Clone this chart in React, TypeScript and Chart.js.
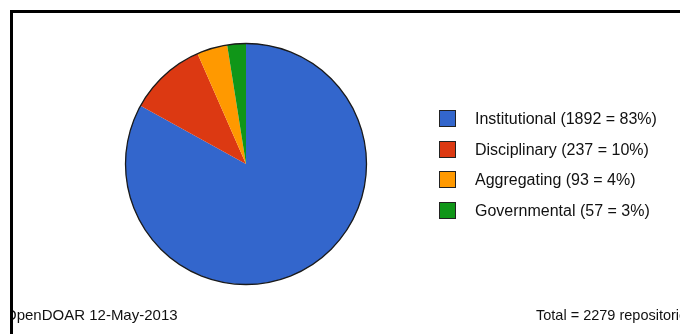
import React, { useEffect, useRef } from "react";
import { Chart, registerables } from "chart.js";

Chart.register(...registerables);

const categories = ["Institutional", "Disciplinary", "Aggregating", "Governmental"];
const counts = [1892, 237, 93, 57];
const percents = [83, 10, 4, 3];
const sliceColors = ["#3366CC", "#DC3912", "#FF9900", "#109618"];
const footerLeft = "OpenDOAR 12-May-2013";
const footerRight = "Total = 2279 repositories";

const legendLabels = categories.map((c, i) => `${c} (${counts[i]} = ${percents[i]}%)`);

const FONT = '"Liberation Sans", Arial, sans-serif';

const decorPlugin = {
  id: "decor",
  afterDatasetsDraw(chart: any) {
    const ctx = chart.ctx;
    const meta = chart.getDatasetMeta(0);
    const arc = meta.data[0];
    if (arc) {
      const { x, y, outerRadius } = arc.getProps(["x", "y", "outerRadius"], true);
      ctx.save();
      ctx.beginPath();
      ctx.arc(x, y, outerRadius, 0, Math.PI * 2);
      ctx.lineWidth = 1.3;
      ctx.strokeStyle = "#1a1a1a";
      ctx.stroke();
      ctx.restore();
    }
  },
  afterDraw(chart: any) {
    const ctx = chart.ctx;
    const ds = chart.data.datasets[0];
    const labels = chart.data.labels as string[];
    ctx.save();
    // legend
    const boxX = 439;
    const firstY = 118.5;
    const step = 30.7;
    const box = 17;
    ctx.font = `16px ${FONT}`;
    ctx.textBaseline = "middle";
    ctx.textAlign = "left";
    labels.forEach((lab, i) => {
      const cy = firstY + i * step;
      const top = Math.round(cy - box / 2);
      ctx.fillStyle = ds.backgroundColor[i];
      ctx.fillRect(boxX, top, box, box);
      ctx.lineWidth = 1;
      ctx.strokeStyle = "#222";
      ctx.strokeRect(boxX + 0.5, top + 0.5, box - 1, box - 1);
      ctx.fillStyle = "#111";
      ctx.fillText(lab, 475, cy + 1);
    });
    // footer
    ctx.textBaseline = "alphabetic";
    ctx.fillStyle = "#111";
    ctx.font = `15px ${FONT}`;
    ctx.fillText(footerLeft, 5, 320);
    ctx.font = `14.5px ${FONT}`;
    ctx.fillText(footerRight, 536, 320);
    // mask & frame
    ctx.fillStyle = "#fff";
    ctx.fillRect(0, 0, 10, chart.height);
    ctx.fillRect(0, 0, chart.width, 10);
    ctx.fillStyle = "#000";
    ctx.fillRect(10, 10, chart.width - 10, 3);
    ctx.fillRect(10, 10, 3, chart.height - 10);
    ctx.restore();
  },
};

export default function App() {
  const ref = useRef<HTMLCanvasElement | null>(null);
  useEffect(() => {
    if (!ref.current) return;
    const chart = new Chart(ref.current, {
      type: "pie",
      data: {
        labels: legendLabels,
        datasets: [
          {
            data: counts,
            backgroundColor: sliceColors,
            borderWidth: 0,
          },
        ],
      },
      options: {
        responsive: false,
        animation: false,
        devicePixelRatio: 1,
        layout: { padding: { left: 125.5, top: 43.5, right: 313.5, bottom: 49.5 } },
        plugins: {
          legend: { display: false },
          tooltip: { enabled: false },
        },
      },
      plugins: [decorPlugin],
    });
    return () => chart.destroy();
  }, []);
  return (
    <div
      style={{
        position: "absolute",
        left: 0,
        top: 0,
        width: 680,
        height: 334,
        overflow: "hidden",
        background: "#fff",
      }}
    >
      <canvas ref={ref} width={680} height={334} style={{ display: "block" }} />
    </div>
  );
}
